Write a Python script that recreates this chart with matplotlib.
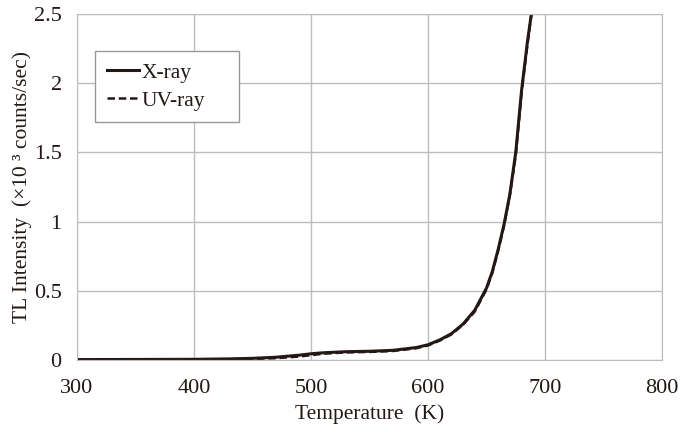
import matplotlib.pyplot as plt
import numpy as np

plt.rcParams['font.family'] = ['Liberation Serif', 'DejaVu Serif']

temp = [300, 350, 400, 430, 450, 470, 490, 500, 510, 530, 550, 570, 590, 600,
        610, 620, 630, 640, 650, 655, 660, 665, 670, 675, 680, 685, 690]
xray = [0.003, 0.004, 0.005, 0.008, 0.012, 0.02, 0.035, 0.045, 0.052, 0.06, 0.063,
        0.07, 0.09, 0.11, 0.145, 0.19, 0.26, 0.36, 0.52, 0.64, 0.8, 0.98, 1.2,
        1.5, 1.95, 2.3, 2.6]
uvray = [0.0, 0.002, 0.003, 0.005, 0.008, 0.013, 0.025, 0.035, 0.045, 0.055, 0.058,
         0.065, 0.085, 0.105, 0.14, 0.185, 0.255, 0.35, 0.51, 0.63, 0.79, 0.97,
         1.19, 1.48, 1.93, 2.28, 2.6]

ink = '#231815'

fig = plt.figure(figsize=(6.81, 4.32), dpi=100)
ax = fig.add_axes([77 / 681, 72 / 432, 585 / 681, 346 / 432])

ax.plot(temp, xray, color=ink, lw=2.2, label='X-ray')
ax.plot(temp, uvray, color=ink, lw=1.8, ls=(0, (3, 1.5)), label='UV-ray')

ax.set_xlim(300, 800)
ax.set_ylim(0, 2.5)
ax.set_xticks(np.arange(300, 801, 100))
ax.set_yticks([0, 0.5, 1, 1.5, 2, 2.5], ['0', '0.5', '1', '1.5', '2', '2.5'])
ax.grid(True, color='#bdbdbd', lw=1.0)
ax.set_axisbelow(True)
for s in ax.spines.values():
    s.set_color('#bdbdbd')
ax.tick_params(length=0, labelsize=16, colors=ink)
ax.tick_params(axis='x', pad=14)
ax.tick_params(axis='y', pad=11)

ax.set_xlabel('Temperature  (K)', fontsize=15.5, color=ink, labelpad=4)
ax.set_ylabel('TL Intensity  (×10 ³ counts/sec)', fontsize=15.5, color=ink, labelpad=1)

leg = ax.legend(loc='upper left', bbox_to_anchor=(18 / 585, 1 - 37 / 346, 144 / 585, 0),
                mode='expand', fontsize=15.5, handlelength=1.5, handletextpad=0.1,
                fancybox=False, edgecolor='#999999', framealpha=1, borderpad=0.55,
                borderaxespad=0, labelspacing=0.35)
leg.get_frame().set_linewidth(1.0)
for t in leg.get_texts():
    t.set_color(ink)

fig.savefig('out.png', dpi=100)
